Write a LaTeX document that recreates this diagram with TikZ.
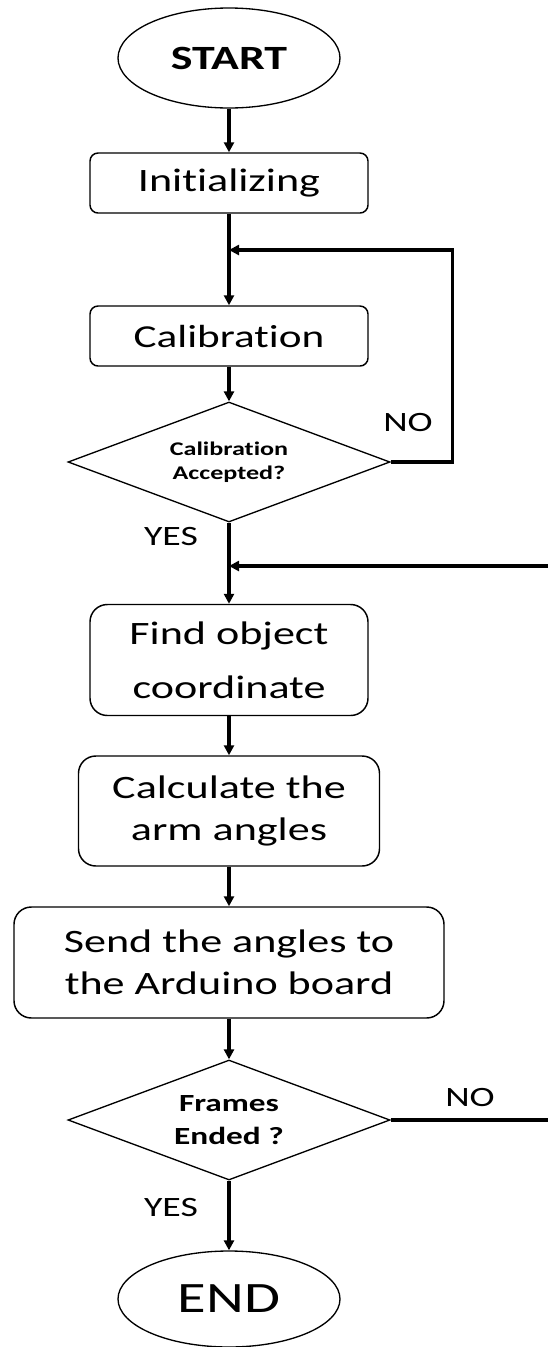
\documentclass[tikz,border=0pt]{standalone}
\usepackage{fontspec}
\setmainfont{Carlito}[FakeStretch=1.35,Ligatures=NoCommon]
\usetikzlibrary{arrows.meta,shapes.geometric}

\begin{document}
\begin{tikzpicture}[x=0.75pt,y=-0.75pt,
  terminal/.style={draw,ellipse,line width=1pt,minimum width=166.5pt,minimum height=75pt,inner sep=0pt},
  process/.style={draw,rounded corners=13pt,line width=1.1pt,minimum width=208.5pt,minimum height=83.25pt,align=center,inner sep=0pt},
  decision/.style={draw,diamond,aspect=2.7,line width=1pt,minimum width=241.5pt,minimum height=90pt,inner sep=0pt,align=center},
  flow/.style={line width=2.4pt,-{Triangle[length=7.5pt,width=7.5pt]}},
  answer/.style={font=\fontsize{21}{24}\selectfont}]
\useasboundingbox (0,0) rectangle (548,1347);
% steps
\node[terminal,font=\bfseries\fontsize{25.5}{28}\selectfont] (start) at (229,58) {START};
\node[process,rounded corners=6pt,minimum height=45pt,font=\fontsize{24.5}{28}\selectfont] (init) at (229,183) {Initializing};
\node[process,rounded corners=6pt,minimum height=45pt,font=\fontsize{24}{28}\selectfont] (calib) at (229,336) {Calibration};
\node[decision,font=\bfseries\fontsize{14.5}{18}\selectfont] (accept) at (229,462) {Calibration\\Accepted?};
\node[process,font=\fontsize{24.5}{40.5}\selectfont] (find) at (229,660) {Find object\\coordinate};
\node[process,minimum width=225.75pt,minimum height=82.5pt,font=\fontsize{24.5}{31.5}\selectfont] (calc) at (229,811) {Calculate the\\arm angles};
\node[process,minimum width=322.5pt,font=\fontsize{24.5}{31.5}\selectfont] (send) at (229,962.5) {Send the angles to\\the Arduino board};
\node[decision,font=\bfseries\fontsize{18.5}{25}\selectfont] (frames) at (229,1120) {Frames\\Ended ?};
\node[terminal,minimum height=72pt,font=\fontsize{32.5}{36}\selectfont] (end) at (229,1299) {END};
% loop targets
\coordinate (upper) at (229,250);
\coordinate (lower) at (229,566);
% main line
\draw[flow] (start) -- (init);
\draw[flow] (init) -- (calib);
\draw[flow] (calib) -- (accept);
\draw[flow] (accept) -- (find);
\draw[flow] (find) -- (calc);
\draw[flow] (calc) -- (send);
\draw[flow] (send) -- (frames);
\draw[flow] (frames) -- (end);
% back loops
\draw[flow] (accept.east) -- ++(62,0) |- (upper);
\draw[flow] (frames.east) -- ++(170,0) |- (lower);
% answers
\node[answer] (no1) at (408,423) {NO};
\node[answer] (yes1) at (171,537) {YES};
\node[answer] (no2) at (470,1097) {NO};
\node[answer] (yes2) at (171,1207) {YES};
\end{tikzpicture}
\end{document}
